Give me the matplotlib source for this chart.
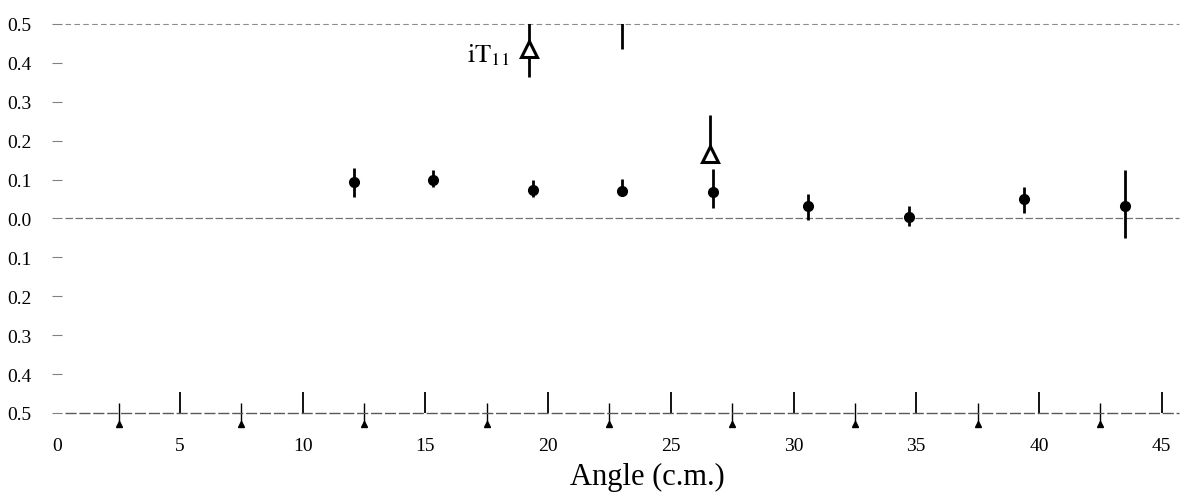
import matplotlib
matplotlib.use("Agg")
import matplotlib.pyplot as plt
import matplotlib.transforms as mtransforms

plt.rcParams['font.family'] = ['Liberation Serif', 'DejaVu Serif']
plt.rcParams['mathtext.fontset'] = 'stix'

# ---- data ----
dot_angle = [12.1, 15.3, 19.4, 23.0, 26.7, 30.6, 34.7, 39.4, 43.5]
dot_value = [0.094, 0.100, 0.074, 0.070, 0.067, 0.031, 0.003, 0.049, 0.031]
dot_err_up = [0.037, 0.025, 0.025, 0.031, 0.059, 0.032, 0.028, 0.031, 0.094]
dot_err_dn = [0.039, 0.020, 0.020, 0.012, 0.039, 0.035, 0.023, 0.035, 0.080]

tri_angle = [19.2, 23.0, 26.6]
tri_value = [0.437, 0.560, 0.165]
tri_err_up = [0.100, 0.100, 0.100]
tri_err_dn = [0.073, 0.125, 0.000]

major_ticks = [0, 5, 10, 15, 20, 25, 30, 35, 40, 45]
minor_ticks = [2.5, 7.5, 12.5, 17.5, 22.5, 27.5, 32.5, 37.5, 42.5]
y_ticks = [0.5, 0.4, 0.3, 0.2, 0.1, 0.0, -0.1, -0.2, -0.3, -0.4, -0.5]
y_tick_labels = ['0.5', '0.4', '0.3', '0.2', '0.1', '0.0', '0.1', '0.2', '0.3', '0.4', '0.5']
x_label = 'Angle (c.m.)'
series_label = r'$\mathrm{iT}_{11}$'

fig = plt.figure(figsize=(11.8, 5.02), dpi=100)
ax = fig.add_axes([0.0486, 0.1753, 0.9504, 0.7749])
ax.set_xlim(0, 45.7)
ax.set_ylim(-0.5, 0.5)
for s in ax.spines.values():
    s.set_visible(False)

# reference lines
x0, x1 = 0.3, 45.7
ax.hlines(0.5, x0, x1, colors='0.55', linestyles=(0, (5, 3)), lw=0.8, clip_on=False)
ax.hlines(0.0, x0, x1, colors='0.45', linestyles=(0, (6, 2)), lw=0.9, clip_on=False)
ax.hlines(-0.5, x0, x1, colors='0.35', linestyles=(0, (8, 2)), lw=1.0, clip_on=False)

# x axis ticks
ax.set_xticks(major_ticks)
ax.set_xticklabels([str(t) for t in major_ticks], fontsize=14)
ax.set_xticks(minor_ticks, minor=True)
ax.tick_params(axis='x', which='major', direction='in', length=15, width=1.3,
               pad=17, color='black', bottom=True, top=False)
ax.tick_params(axis='x', which='minor', direction='inout', length=14, width=1.0,
               color='black')
ax.xaxis.get_major_ticks()[0].tick1line.set_visible(False)
arrow_offset = mtransforms.ScaledTranslation(0, -11 / 100, fig.dpi_scale_trans)
ax.plot(minor_ticks, [-0.5] * len(minor_ticks), linestyle='none', marker='^',
        markersize=4, color='black', clip_on=False,
        transform=ax.transData + arrow_offset)

# y axis ticks
ax.set_yticks(y_ticks)
ax.set_yticklabels(y_tick_labels, fontsize=14)
ax.tick_params(axis='y', direction='inout', length=7, width=0.8, color='0.5', pad=15)

ax.set_xlabel(x_label, fontsize=22)
ax.xaxis.set_label_coords(0.526, -0.125)

# data: filled points with error bars
ax.errorbar(dot_angle, dot_value, yerr=[dot_err_dn, dot_err_up], fmt='o',
            color='black', markersize=7, elinewidth=2.0, capsize=0, zorder=3)

# open triangles with error bars
ax.errorbar(tri_angle, tri_value, yerr=[tri_err_dn, tri_err_up], fmt='^',
            color='black', markerfacecolor='white', markeredgecolor='black',
            markeredgewidth=2.2, markersize=12, elinewidth=2.0, capsize=0, zorder=3)

ax.annotate(series_label, xy=(tri_angle[0], tri_value[0]), xytext=(-14, -4),
            textcoords='offset points', ha='right', va='center', fontsize=19)

fig.savefig('out.png', dpi=100)
